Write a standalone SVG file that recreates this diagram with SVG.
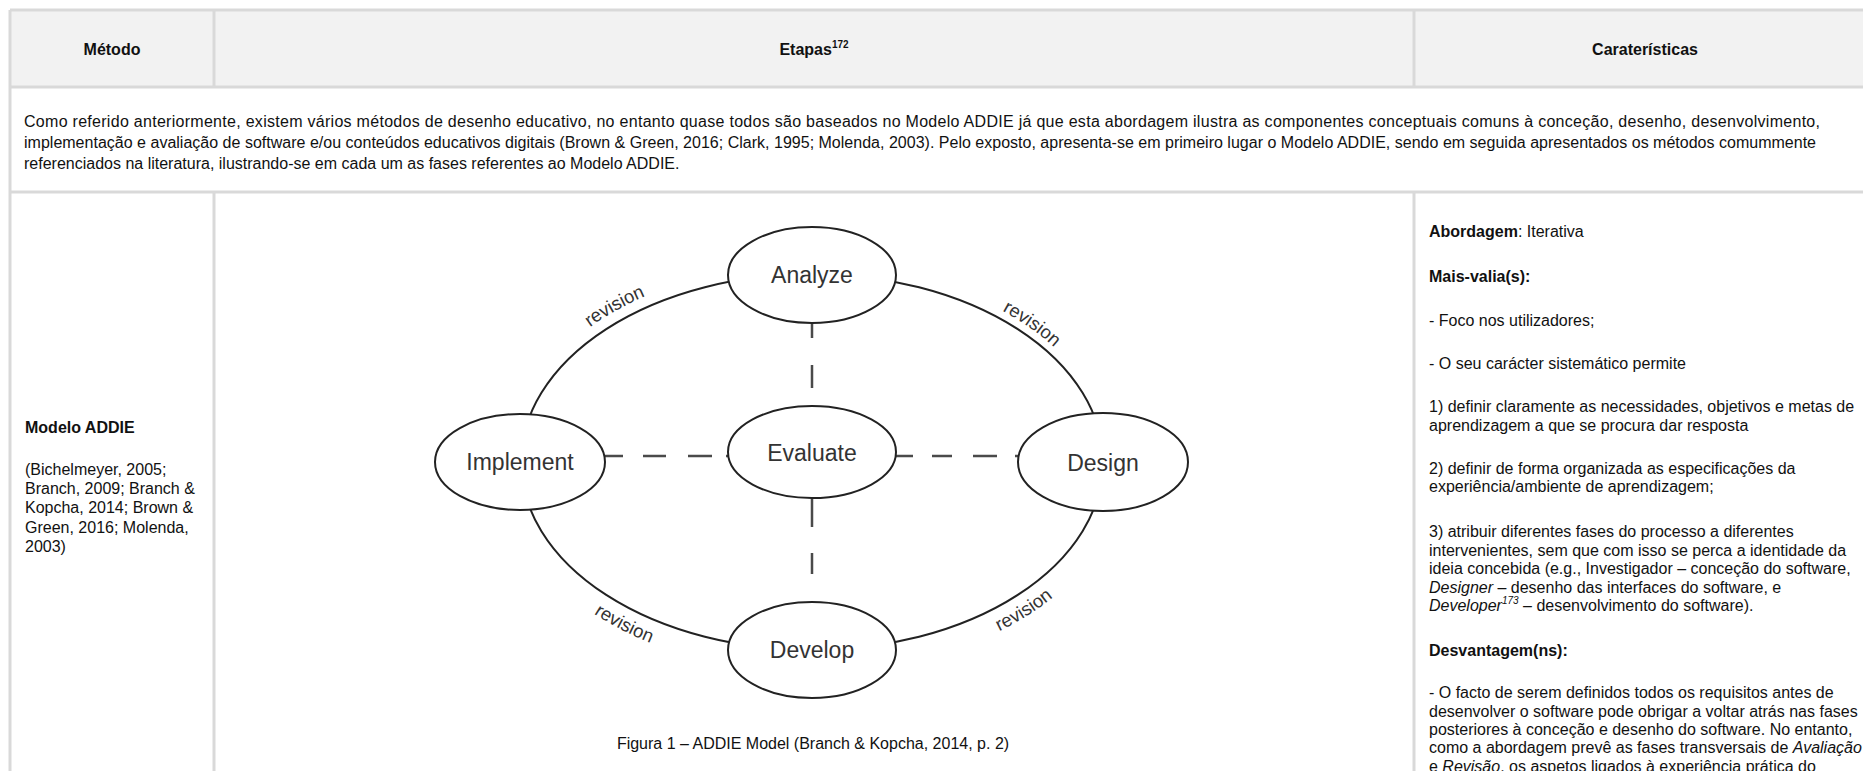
<svg xmlns="http://www.w3.org/2000/svg" width="1863" height="771" viewBox="0 0 1863 771">
  <defs>
    <style>
      .grid { stroke: #d9d9d9; stroke-width: 3; fill: none; }
      .txt { font-family: "Liberation Sans", Arial, sans-serif; font-size: 16px; fill: #111; }
      .b { font-weight: bold; }
      .i { font-style: italic; }
      .node ellipse { fill: #fff; stroke: #222; stroke-width: 2; }
      .node text { font-family: "Liberation Sans", Arial, sans-serif; font-size: 23px; fill: #333; text-anchor: middle; }
      .ring { fill: none; stroke: #222; stroke-width: 2; }
      .dash { fill: none; stroke: #4a4a4a; stroke-width: 2.5; }
      .rev { font-family: "Liberation Sans", Arial, sans-serif; font-size: 18.5px; fill: #333; }
    </style>
    <!-- baselines for the "revision" labels, drawn just outside the ring -->
    <path id="revUL" d="M546.6,367 A302,199 0 0 1 701.3,276.9"/>
    <path id="revUR" d="M952.4,289 A299,196 0 0 1 1089.2,388.6"/>
    <path id="revLL" d="M544.3,572.2 A314,211 0 0 0 712.4,662.1"/>
    <path id="revLR" d="M942.2,654 A314,211 0 0 0 1095.4,552.8"/>
  </defs>

  <rect width="1863" height="771" fill="#fff"/>

  <!-- table -->
  <g id="table">
    <rect x="10" y="10" width="1870" height="77" fill="#f2f2f2"/>
    <path class="grid" d="M10,10 H1863 M10,87 H1863 M10,192 H1863 M10,10 V771 M214,10 V87 M214,192 V771 M1414,10 V87 M1414,192 V771"/>
    <text class="txt b" x="112" y="55" text-anchor="middle">Método</text>
    <text class="txt b" x="814" y="55" text-anchor="middle">Etapas<tspan font-size="10" dy="-7">172</tspan></text>
    <text class="txt b" x="1645" y="55" text-anchor="middle">Caraterísticas</text>

    <text class="txt" x="24" y="127" textLength="1796" lengthAdjust="spacing">Como referido anteriormente, existem vários métodos de desenho educativo, no entanto quase todos são baseados no Modelo ADDIE já que esta abordagem ilustra as componentes conceptuais comuns à conceção, desenho, desenvolvimento,</text>
    <text class="txt" x="24" y="148" textLength="1792" lengthAdjust="spacing">implementação e avaliação de software e/ou conteúdos educativos digitais (Brown &amp; Green, 2016; Clark, 1995; Molenda, 2003). Pelo exposto, apresenta-se em primeiro lugar o Modelo ADDIE, sendo em seguida apresentados os métodos comummente</text>
    <text class="txt" x="24" y="169">referenciados na literatura, ilustrando-se em cada um as fases referentes ao Modelo ADDIE.</text>

    <text class="txt b" x="25" y="433">Modelo ADDIE</text>
    <text class="txt" x="25" y="475">(Bichelmeyer, 2005;</text>
    <text class="txt" x="25" y="494">Branch, 2009; Branch &amp;</text>
    <text class="txt" x="25" y="513">Kopcha, 2014; Brown &amp;</text>
    <text class="txt" x="25" y="533">Green, 2016; Molenda,</text>
    <text class="txt" x="25" y="552">2003)</text>

    <text class="txt" x="1429" y="237"><tspan class="b">Abordagem</tspan>: Iterativa</text>
    <text class="txt b" x="1429" y="282">Mais-valia(s):</text>
    <text class="txt" x="1429" y="326">- Foco nos utilizadores;</text>
    <text class="txt" x="1429" y="369">- O seu carácter sistemático permite</text>
    <text class="txt" x="1429" y="412">1) definir claramente as necessidades, objetivos e metas de</text>
    <text class="txt" x="1429" y="431">aprendizagem a que se procura dar resposta</text>
    <text class="txt" x="1429" y="474">2) definir de forma organizada as especificações da</text>
    <text class="txt" x="1429" y="492">experiência/ambiente de aprendizagem;</text>
    <text class="txt" x="1429" y="537">3) atribuir diferentes fases do processo a diferentes</text>
    <text class="txt" x="1429" y="556">intervenientes, sem que com isso se perca a identidade da</text>
    <text class="txt" x="1429" y="574">ideia concebida (e.g., Investigador – conceção do software,</text>
    <text class="txt" x="1429" y="593"><tspan class="i">Designer</tspan> – desenho das interfaces do software, e</text>
    <text class="txt" x="1429" y="611"><tspan class="i">Developer</tspan><tspan class="i" font-size="10" dy="-7">173</tspan><tspan dy="7"> – desenvolvimento do software).</tspan></text>
    <text class="txt b" x="1429" y="656">Desvantagem(ns):</text>
    <text class="txt" x="1429" y="698">- O facto de serem definidos todos os requisitos antes de</text>
    <text class="txt" x="1429" y="717">desenvolver o software pode obrigar a voltar atrás nas fases</text>
    <text class="txt" x="1429" y="735">posteriores à conceção e desenho do software. No entanto,</text>
    <text class="txt" x="1429" y="753">como a abordagem prevê as fases transversais de <tspan class="i">Avaliação</tspan></text>
    <text class="txt" x="1429" y="772">e <tspan class="i">Revisão</tspan>, os aspetos ligados à experiência prática do</text>

    <text class="txt" x="813" y="749" text-anchor="middle">Figura 1 – ADDIE Model (Branch &amp; Kopcha, 2014, p. 2)</text>
  </g>

  <!-- ADDIE connectors -->
  <g id="connectors">
    <path class="ring" d="M812,274 A291,188 0 0 0 521,462"/>
    <path class="ring" d="M812,274 A291,188 0 0 1 1103,462"/>
    <path class="ring" d="M1103,462 A291,188 0 0 1 812,650"/>
    <path class="ring" d="M521,462 A291,188 0 0 0 812,650"/>
    <path class="dash" d="M812,323 V338 M812,365 V388"/>
    <path class="dash" d="M812,498 V527 M812,553 V574"/>
    <path class="dash" d="M605,456 H623 M643,456 H666 M688,456 H712 M726,456 H729"/>
    <path class="dash" d="M896,456 H913 M932,456 H952 M973,456 H997 M1015,456 H1019"/>
    <text class="rev"><textPath href="#revUL" startOffset="50%" text-anchor="middle">revision</textPath></text>
    <text class="rev"><textPath href="#revUR" startOffset="50%" text-anchor="middle">revision</textPath></text>
    <text class="rev"><textPath href="#revLL" startOffset="50%" text-anchor="middle">revision</textPath></text>
    <text class="rev"><textPath href="#revLR" startOffset="50%" text-anchor="middle">revision</textPath></text>
  </g>

  <g id="analyze" class="node">
    <ellipse cx="812" cy="275" rx="84" ry="48"/>
    <text x="812" y="283">Analyze</text>
  </g>
  <g id="evaluate" class="node">
    <ellipse cx="812" cy="452" rx="84" ry="46"/>
    <text x="812" y="461">Evaluate</text>
  </g>
  <g id="implement" class="node">
    <ellipse cx="520" cy="462" rx="85" ry="48"/>
    <text x="520" y="470">Implement</text>
  </g>
  <g id="design" class="node">
    <ellipse cx="1103" cy="462" rx="85" ry="49"/>
    <text x="1103" y="471">Design</text>
  </g>
  <g id="develop" class="node">
    <ellipse cx="812" cy="650" rx="84" ry="48"/>
    <text x="812" y="658">Develop</text>
  </g>
</svg>
